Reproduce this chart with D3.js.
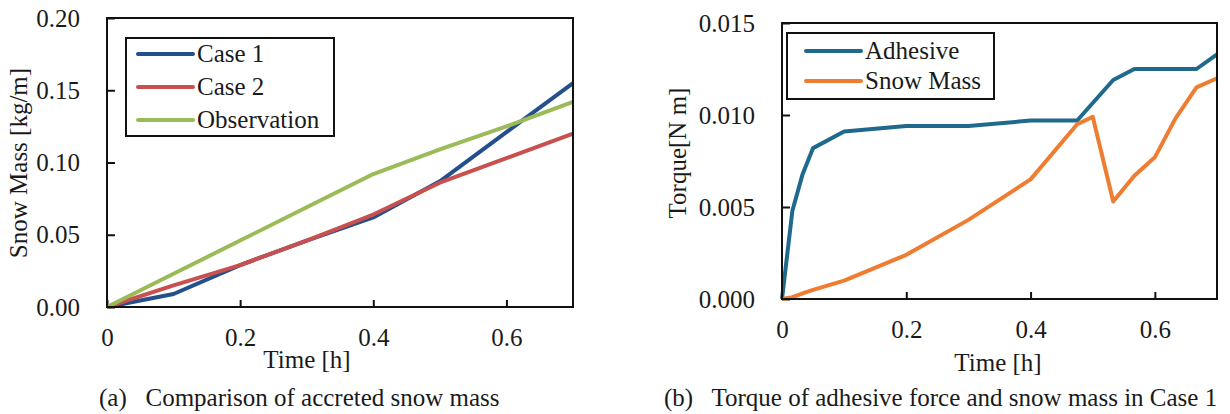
<!DOCTYPE html>
<html lang="en">
<head>
    <meta charset="utf-8">
    <script src="https://d3js.org/d3.v7.min.js"></script>
    <style>
        body { margin: 0; background: white; }
        svg text { font-family: "Liberation Serif", "Times New Roman", serif; font-size: 25px; fill: #1a1a1a; }
    </style>
</head>
<body>
    <div id="graphes"></div>
    <script>
        // (a) snow mass
        var tempsA = [0, 0.1, 0.2, 0.3, 0.4, 0.5, 0.6, 0.7];
        var cas1 = [0, 0.009, 0.029, 0.046, 0.062, 0.087, 0.121, 0.155];
        var cas2 = [0, 0.015, 0.029, 0.046, 0.064, 0.086, 0.103, 0.120];
        var observation = [0, 0.023, 0.046, 0.069, 0.092, 0.109, 0.125, 0.142];
        var nomsA = ["Case 1", "Case 2", "Observation"];
        var couleursA = ["#234F8C", "#C8504F", "#9BBB59"];

        // (b) torque
        var tempsAdh = [0, 0.0167, 0.0333, 0.05, 0.1, 0.2, 0.3, 0.4, 0.475, 0.533, 0.567, 0.667, 0.7];
        var adhesif = [0, 0.0048, 0.0068, 0.0082, 0.0091, 0.0094, 0.0094, 0.0097, 0.0097, 0.0119, 0.0125, 0.0125, 0.0133];
        var tempsNeige = [0, 0.0167, 0.0333, 0.05, 0.1, 0.2, 0.3, 0.4, 0.475, 0.5, 0.533, 0.567, 0.6, 0.633, 0.667, 0.7];
        var masseNeige = [0, 0.0001, 0.0003, 0.0005, 0.001, 0.0024, 0.0043, 0.0065, 0.0095, 0.0099, 0.0053, 0.0067, 0.0077, 0.0098, 0.0115, 0.012];
        var nomsB = ["Adhesive", "Snow Mass"];
        var couleursB = ["#1E698C", "#EE7D32"];

        var ticksX = [0, 0.2, 0.4, 0.6];
        var ticksYA = [0, 0.05, 0.10, 0.15, 0.20];
        var ticksYB = [0, 0.005, 0.010, 0.015];

        var svg = d3.select("#graphes")
            .append("svg")
            .attr("width", 1230)
            .attr("height", 414);

        function formatX(d) {
            return d === 0 ? "0" : d3.format(".1f")(d);
        }

        function dessineGraphe(g, cadre, yMax, ticksY, formatY, series, legende, titreY, titreYX, titreYY, titreX) {
            var x = d3.scaleLinear().domain([0, 0.7]).range([cadre.gauche, cadre.droite]);
            var y = d3.scaleLinear().domain([0, yMax]).range([cadre.bas, cadre.haut]);

            g.append("g")
                .attr("transform", "translate(0," + cadre.bas + ")")
                .call(d3.axisBottom(x).tickValues(ticksX).tickSize(-7).tickPadding(21).tickFormat(formatX))
                .call(a => a.select(".domain").remove());

            g.append("g")
                .attr("transform", "translate(" + cadre.gauche + ",0)")
                .call(d3.axisLeft(y).tickValues(ticksY).tickSize(-8).tickPadding(27).tickFormat(d3.format(formatY)))
                .call(a => a.select(".domain").remove());

            g.selectAll(".tick line").attr("stroke", "#111").attr("stroke-width", 2);
            g.selectAll(".tick text").attr("font-size", null).attr("font-family", null);

            var ligne = d3.line().x(d => x(d[0])).y(d => y(d[1]));
            series.forEach(s => {
                g.append("path")
                    .attr("d", ligne(s.points))
                    .attr("fill", "none")
                    .attr("stroke", s.couleur)
                    .attr("stroke-width", 4)
                    .attr("stroke-linejoin", "round");
            });

            g.append("rect")
                .attr("x", cadre.gauche)
                .attr("y", cadre.haut)
                .attr("width", cadre.droite - cadre.gauche)
                .attr("height", cadre.bas - cadre.haut)
                .attr("fill", "none")
                .attr("stroke", "#111")
                .attr("stroke-width", 2);

            // legende
            g.append("rect")
                .attr("x", legende.x)
                .attr("y", legende.y)
                .attr("width", legende.l)
                .attr("height", legende.h)
                .attr("fill", "white")
                .attr("stroke", "#111")
                .attr("stroke-width", 2);
            series.forEach((s, i) => {
                var yy = legende.lignes[i];
                g.append("line")
                    .attr("x1", legende.x1).attr("x2", legende.x2)
                    .attr("y1", yy).attr("y2", yy)
                    .attr("stroke", s.couleur)
                    .attr("stroke-width", 4)
                    .attr("stroke-linecap", "round");
                g.append("text")
                    .attr("x", legende.x2 + 4)
                    .attr("y", yy + 8)
                    .text(s.nom);
            });

            g.append("text")
                .attr("transform", "translate(" + titreYX + "," + titreYY + ") rotate(-90)")
                .attr("text-anchor", "middle")
                .text(titreY);

            g.append("text")
                .attr("x", titreX.x)
                .attr("y", titreX.y)
                .attr("text-anchor", "middle")
                .text("Time [h]");
        }

        var seriesA = [cas1, cas2, observation].map((v, i) => ({
            nom: nomsA[i],
            couleur: couleursA[i],
            points: tempsA.map((t, j) => [t, v[j]])
        }));

        dessineGraphe(svg.append("g"),
            { gauche: 107, droite: 573, haut: 18, bas: 307 },
            0.20, ticksYA, ".2f", seriesA,
            { x: 126, y: 38, l: 208, h: 98, x1: 138, x2: 193, lignes: [54, 87, 120] },
            "Snow Mass [kg/m]", 27, 163, { x: 307, y: 368 });

        var seriesB = [
            { nom: nomsB[0], couleur: couleursB[0], points: tempsAdh.map((t, j) => [t, adhesif[j]]) },
            { nom: nomsB[1], couleur: couleursB[1], points: tempsNeige.map((t, j) => [t, masseNeige[j]]) }
        ];

        dessineGraphe(svg.append("g"),
            { gauche: 782, droite: 1217, haut: 23, bas: 299 },
            0.015, ticksYB, ".3f", seriesB,
            { x: 787, y: 33, l: 207, h: 66, x1: 806, x2: 861, lignes: [51, 81] },
            "Torque[N m]", 686, 153, { x: 998, y: 371 });

        svg.append("text").attr("x", 99).attr("y", 406).attr("xml:space", "preserve")
            .text("(a)   Comparison of accreted snow mass");
        svg.append("text").attr("x", 664).attr("y", 406).attr("xml:space", "preserve")
            .text("(b)   Torque of adhesive force and snow mass in Case 1");
    </script>
</body>
</html>
